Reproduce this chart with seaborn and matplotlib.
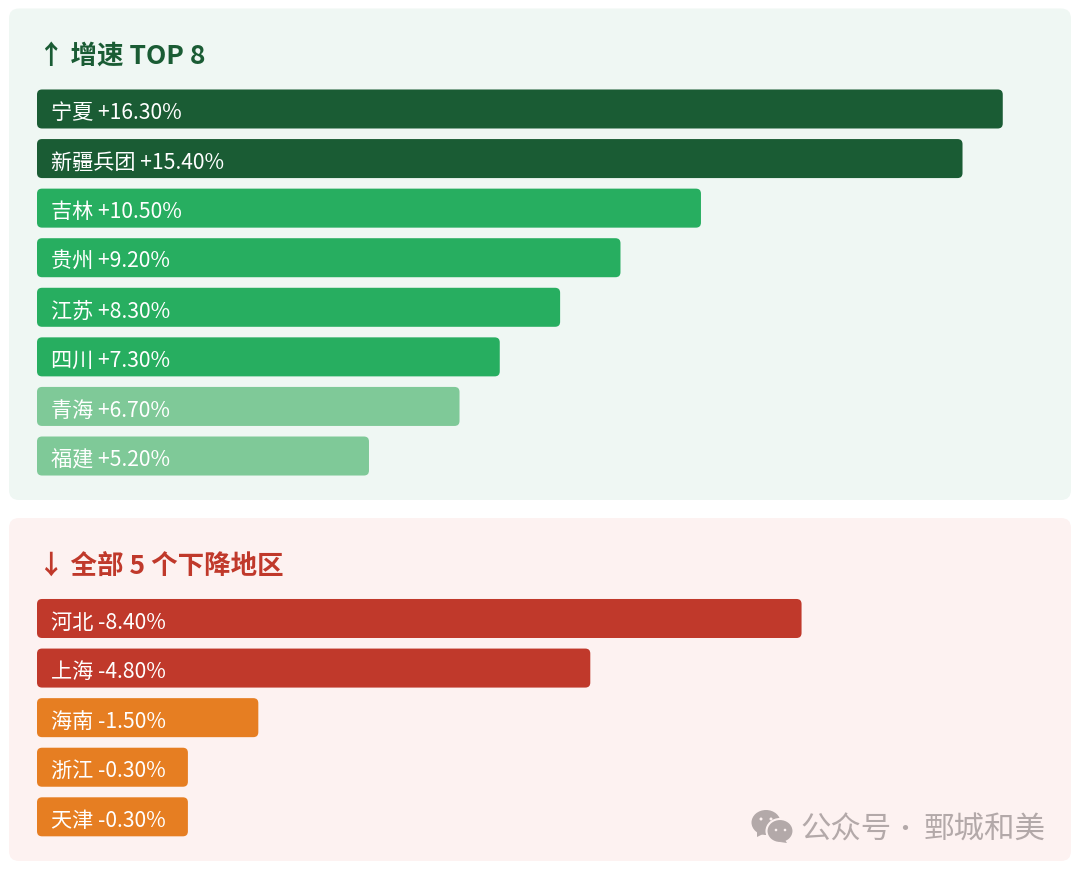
import matplotlib
matplotlib.use("Agg")
import matplotlib.pyplot as plt
from matplotlib.patches import FancyBboxPatch, Ellipse, Polygon
from matplotlib.transforms import IdentityTransform
import pandas as pd
import seaborn as sns

up_regions = ["宁夏", "新疆兵团", "吉林", "贵州", "江苏", "四川", "青海", "福建"]
up_labels = ["+16.30%", "+15.40%", "+10.50%", "+9.20%", "+8.30%", "+7.30%", "+6.70%", "+5.20%"]
up_lengths = [96, 92, 66, 58, 52, 46, 42, 33]
up_colors = ["#1a5c34", "#1a5c34", "#27ae60", "#27ae60", "#27ae60", "#27ae60", "#7fc998", "#7fc998"]

down_regions = ["河北", "上海", "海南", "浙江", "天津"]
down_labels = ["-8.40%", "-4.80%", "-1.50%", "-0.30%", "-0.30%"]
down_lengths = [76, 55, 22, 15, 15]
down_colors = ["#c0392b", "#c0392b", "#e67e22", "#e67e22", "#e67e22"]

W, H = 1080, 871
sns.set_theme(style="white")
plt.rcParams["font.family"] = ["Noto Sans CJK SC", "DejaVu Sans"]
fig = plt.figure(figsize=(W / 100, H / 100), dpi=100, facecolor="white")
PX = IdentityTransform()


def panel(x0, y0, x1, y1, color):
    r = 10
    fig.add_artist(FancyBboxPatch((x0 + r, H - y1 + r), x1 - x0 - 2 * r, y1 - y0 - 2 * r,
                                  boxstyle=f"round,pad={r},rounding_size={r}",
                                  fc=color, ec="none", transform=PX, zorder=-5))


def px_axes(x0, y0, x1, y1):
    ax = fig.add_axes([x0 / W, 1 - y1 / H, (x1 - x0) / W, (y1 - y0) / H])
    ax.patch.set_alpha(0)
    return ax


def bars(ax, regions, labels, lengths, colors):
    df = pd.DataFrame({"region": regions, "length": lengths})
    sns.barplot(data=df, x="length", y="region", hue="region", palette=colors,
                order=regions, hue_order=regions, legend=False, dodge=False,
                width=0.787, saturation=1, ax=ax)
    ax.set_xlim(0, 100)
    ax.set_ylim(len(regions) - 0.5, -0.5)
    ax.axis("off")
    fig.canvas.draw()
    for p in list(ax.patches):
        bb = p.get_window_extent()
        c = p.get_facecolor()
        p.set_visible(False)
        r = 5
        fig.add_artist(FancyBboxPatch((bb.x0 + r, bb.y0 + r), bb.width - 2 * r, bb.height - 2 * r,
                                      boxstyle=f"round,pad={r},rounding_size={r}",
                                      fc=c, ec="none", transform=PX, zorder=-1))
    for i, (name, lab) in enumerate(zip(regions, labels)):
        ax.annotate(f"{name} {lab}", (0, i), xytext=(10.3, -3.0), textcoords="offset points",
                    color="white", fontsize=15.25, fontweight="medium",
                    va="center", ha="left", annotation_clip=False)


panel(9, 8.5, 1071, 500, "#eff7f3")
panel(9, 518, 1071, 861, "#fdf2f1")

ax1 = px_axes(37, 84.2, 1043, 480.8)
bars(ax1, up_regions, up_labels, up_lengths, up_colors)
ax2 = px_axes(37, 593.7, 1043, 841.6)
bars(ax2, down_regions, down_labels, down_lengths, down_colors)

fig.text(37.5 / W, 1 - 56 / H, "↑ 增速 TOP 8", color="#1a5c34", fontsize=19.1,
         fontweight="bold", va="center", ha="left")
fig.text(37.5 / W, 1 - 566 / H, "↓ 全部 5 个下降地区", color="#c0392b", fontsize=19.1,
         fontweight="bold", va="center", ha="left")

# watermark
wm = "#b3a9a9"
bg = "#fdf2f1"
fig.add_artist(Ellipse((766, H - 822.5), 29, 25, fc=wm, ec="none", transform=PX, zorder=3))
fig.add_artist(Polygon([(757, H - 830), (757, H - 837), (765, H - 833)], fc=wm, ec="none", transform=PX, zorder=3))
fig.add_artist(Ellipse((780, H - 831), 27, 24, fc=wm, ec=bg, lw=1.5, transform=PX, zorder=4))
fig.add_artist(Polygon([(785, H - 840), (787, H - 843), (780, H - 842)], fc=wm, ec="none", transform=PX, zorder=4))
for ex, ey, er in [(761, 819, 3), (771, 819, 3), (776, 830, 2.6), (785, 830, 2.6)]:
    fig.add_artist(Ellipse((ex, H - ey), er, er, fc=bg, ec="none", transform=PX, zorder=5))
wm_y = 1 - 830 / H
fig.text(800 / W, wm_y, "公众号", color=wm, fontsize=21.9, va="center", ha="left", zorder=6)
fig.text(905 / W, wm_y, "·", color=wm, fontsize=18, va="center", ha="center", zorder=6)
fig.text(924 / W, wm_y, "鄄城和美", color=wm, fontsize=22, va="center", ha="left", zorder=6)

fig.savefig("out.png", dpi=100, facecolor="white")
